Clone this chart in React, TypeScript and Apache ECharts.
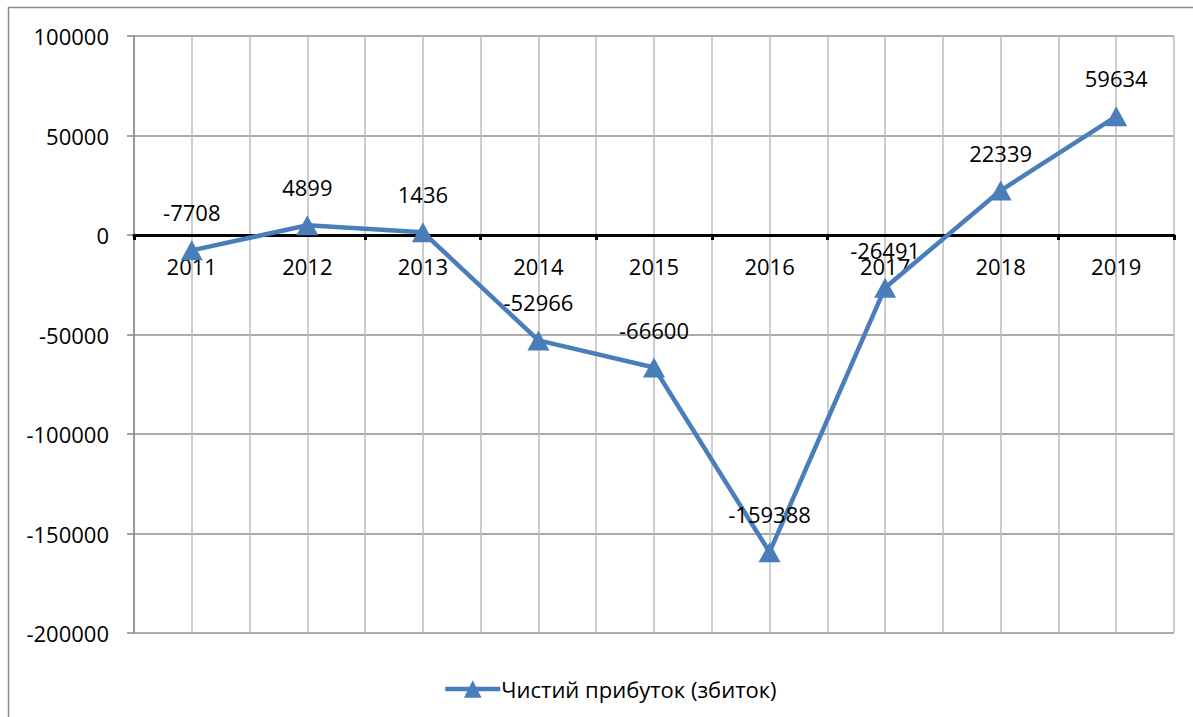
import React, { useEffect, useRef } from "react";
import * as echarts from "echarts";

const categories = ["2011", "2012", "2013", "2014", "2015", "2016", "2017", "2018", "2019"];
const profitValues = [-7708, 4899, 1436, -52966, -66600, -159388, -26491, 22339, 59634];
const seriesName = "Чистий прибуток (збиток)";
const yMin = -200000;
const yMax = 100000;
const yStep = 50000;

const FONT = "'Open Sans', 'Noto Sans', sans-serif";
const BLUE = "#4a7ebb";
const FS = 22;

export default function App() {
  const ref = useRef<HTMLDivElement>(null);
  useEffect(() => {
    if (!ref.current) return;
    const chart = echarts.init(ref.current, null, { renderer: "svg" });
    const gridTop = 36;
    const gridBottom = 84;
    const plotH = 717 - gridTop - gridBottom;
    const zeroOffset = -Math.round(((0 - yMin) / (yMax - yMin)) * plotH);
    chart.setOption({
      animation: false,
      backgroundColor: "#ffffff",
      textStyle: { fontFamily: FONT },
      graphic: [
        {
          type: "rect",
          shape: { x: 8.5, y: 7.5, width: 1220, height: 800 },
          style: { fill: "none", stroke: "#8a8a8a", lineWidth: 1.5 },
          silent: true,
        },
      ],
      grid: { left: 134, right: 19, top: gridTop, bottom: gridBottom, containLabel: false },
      legend: {
        left: 438,
        top: 673,
        itemWidth: 55,
        itemHeight: 22,
        itemGap: 0,
        lineStyle: { width: 4.5 },
        textStyle: { fontFamily: FONT, fontSize: FS, color: "#000", padding: [0, 0, 0, -4] },
        data: [seriesName],
      },
      xAxis: [
        {
          type: "category",
          data: categories,
          boundaryGap: true,
          offset: zeroOffset,
          axisLine: { show: true, onZero: false, lineStyle: { color: "#000", width: 3 } },
          axisTick: { show: true, inside: false, length: 5, lineStyle: { color: "#000", width: 3 } },
          axisLabel: { margin: 20, fontSize: FS, color: "#000", fontFamily: FONT },
          splitLine: { show: false },
          z: 1,
        },
        {
          type: "value",
          position: "top",
          min: 0,
          max: categories.length * 2,
          interval: 1,
          axisLine: { show: false },
          axisTick: { show: false },
          axisLabel: { show: false },
          splitLine: { show: true, lineStyle: { color: "#bdbdbd", width: 1.5 } },
        },
      ],
      yAxis: {
        type: "value",
        min: yMin,
        max: yMax,
        interval: yStep,
        axisLine: { show: true, onZero: false, lineStyle: { color: "#868686", width: 1.5 } },
        axisTick: { show: true, inside: false, length: 7, lineStyle: { color: "#868686", width: 1.5 } },
        axisLabel: {
          margin: 25,
          fontSize: FS,
          color: "#000",
          fontFamily: FONT,
          formatter: (v: number) => String(v),
        },
        splitLine: { show: true, lineStyle: { color: "#8f8f8f", width: 1.5 } },
      },
      series: [
        {
          name: seriesName,
          type: "line",
          xAxisIndex: 0,
          yAxisIndex: 0,
          data: profitValues,
          symbol: "triangle",
          symbolSize: [22, 20],
          lineStyle: { color: BLUE, width: 4.5 },
          itemStyle: { color: BLUE },
          label: {
            show: true,
            position: "top",
            distance: 17,
            fontSize: FS,
            color: "#000",
            fontFamily: FONT,
          },
          z: 3,
        },
      ],
    });
    return () => chart.dispose();
  }, []);
  return (
    <div
      ref={ref}
      style={{ position: "fixed", left: 0, top: 0, width: 1193, height: 717 }}
    />
  );
}
